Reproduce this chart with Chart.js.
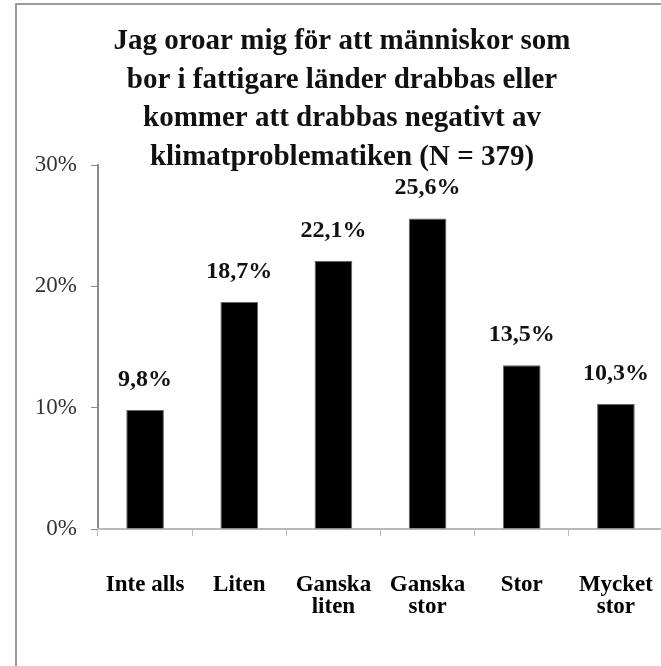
<!DOCTYPE html>
<html>
<head>
<meta charset="utf-8">
<script src="https://cdn.jsdelivr.net/npm/chart.js@4.4.1/dist/chart.umd.min.js"></script>
<style>
    body { margin: 0; background: #fff; overflow: hidden; }
    #frame {
        position: absolute; left: 15px; top: 3px;
        width: 700px; height: 700px;
        border-left: 2px solid #9c9c9c; border-top: 2px solid #9c9c9c;
    }
    #chart { position: absolute; left: 17px; top: 6px; }
</style>
</head>
<body>
<div id="frame"></div>
<canvas id="chart" width="700" height="660"></canvas>
<script>
// Data
const categories = ['Inte alls', 'Liten', ['Ganska', 'liten'], ['Ganska', 'stor'], 'Stor', ['Mycket', 'stor']];
const shares = [9.8, 18.7, 22.1, 25.6, 13.5, 10.3];
const yTicks = [0, 10, 20, 30];
const titleLines = [
    'Jag oroar mig för att människor som',
    'bor i fattigare länder drabbas eller',
    'kommer att drabbas negativt av',
    'klimatproblematiken (N = 379)'
];

const serif = "'Liberation Serif', 'Times New Roman', serif";

// Title drawn by hand so it can sit centred over the frame, not the plot
const titleBlock = {
    id: 'titleBlock',
    afterDraw(chart) {
        const ctx = chart.ctx;
        ctx.save();
        ctx.font = 'bold 29px ' + serif;
        ctx.fillStyle = '#111';
        ctx.textAlign = 'center';
        ctx.textBaseline = 'middle';
        titleLines.forEach((line, i) => ctx.fillText(line, 325, 36 + i * 38.4));
        ctx.restore();
    }
};

// Value labels above each bar
const barLabels = {
    id: 'barLabels',
    afterDatasetsDraw(chart) {
        const ctx = chart.ctx;
        const meta = chart.getDatasetMeta(0);
        ctx.save();
        ctx.font = 'bold 24px ' + serif;
        ctx.fillStyle = '#111';
        ctx.textAlign = 'center';
        ctx.textBaseline = 'alphabetic';
        meta.data.forEach((bar, i) => {
            ctx.fillText(shares[i].toFixed(1).replace('.', ',') + '%', bar.x, bar.y - 24);
        });
        ctx.restore();
    }
};

new Chart(document.getElementById('chart'), {
    type: 'bar',
    data: {
        labels: categories,
        datasets: [{
            data: shares,
            backgroundColor: '#000',
            borderColor: '#666',
            borderWidth: 1,
            barPercentage: 0.4,
            categoryPercentage: 1
        }]
    },
    plugins: [barLabels, titleBlock],
    options: {
        responsive: false,
        animation: false,
        layout: { padding: { left: 0, right: 54, top: 159, bottom: 0 } },
        plugins: {
            legend: { display: false },
            tooltip: { enabled: false },
            title: { display: false }
        },
        scales: {
            y: {
                min: 0,
                max: 30,
                afterBuildTicks(scale) {
                    scale.ticks = yTicks.map(v => ({ value: v }));
                },
                afterFit(scale) { scale.width = 81; },
                ticks: {
                    callback: v => v + '%',
                    color: '#333',
                    padding: 14,
                    font: { family: serif, size: 23 }
                },
                grid: { drawOnChartArea: false, tickLength: 7, color: '#8a8a8a' },
                border: { color: '#8a8a8a', width: 2 }
            },
            x: {
                afterFit(scale) { scale.height = 137; },
                ticks: {
                    color: '#000',
                    padding: 38,
                    maxRotation: 0,
                    font: { family: serif, size: 23, weight: 'bold', lineHeight: 0.96 }
                },
                grid: { drawOnChartArea: false, tickLength: 7, color: '#b8b8b8' },
                border: { color: '#b8b8b8', width: 2 }
            }
        }
    }
});
</script>
</body>
</html>
